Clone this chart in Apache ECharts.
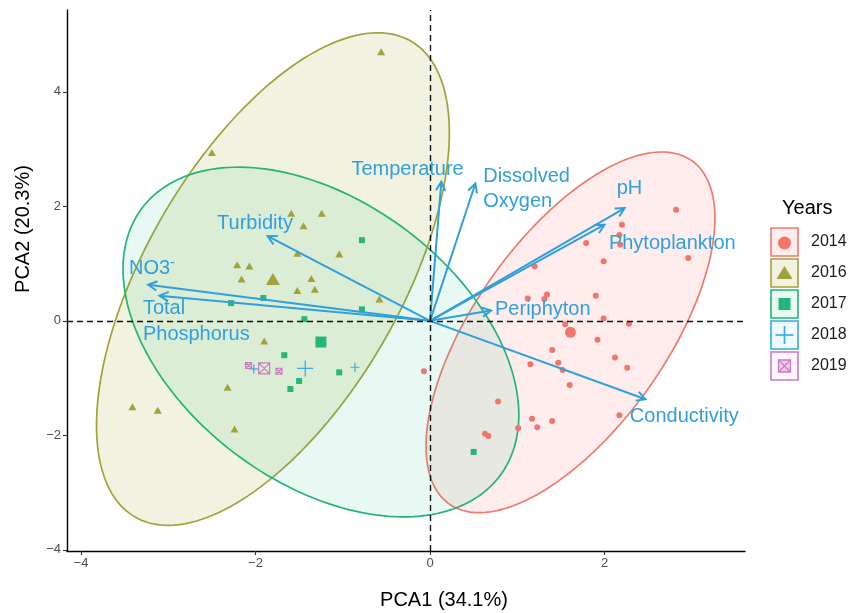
<!DOCTYPE html>
<html><head><meta charset="utf-8">
<script src="https://cdn.jsdelivr.net/npm/echarts@6/dist/echarts.min.js"></script>
<style>html,body{margin:0;padding:0;background:#fff}#c{width:852px;height:613px}</style>
</head><body><div id="c"></div>
<script>
// ---------------- data ----------------
const years = ['2014', '2016', '2017', '2018', '2019'];
const pts2014 = [[2.82,1.94],[2.20,1.68],[2.17,1.50],[2.18,1.33],[1.79,1.36],[1.99,1.04],[2.96,1.10],[1.20,0.95],
  [1.12,0.39],[1.34,0.46],[1.31,0.38],[1.90,0.44],[1.99,0.04],[2.28,-0.05],[1.55,-0.06],[1.92,-0.33],[1.40,-0.51],
  [2.12,-0.64],[2.26,-0.82],[1.15,-0.76],[1.47,-0.73],[1.52,-0.86],[1.60,-1.12],[-0.07,-0.88],[0.78,-1.41],
  [1.17,-1.71],[1.40,-1.75],[1.23,-1.86],[1.01,-1.87],[2.17,-1.65],[0.63,-1.97],[0.67,-2.01]];
const pts2016 = [[-0.56,4.70],[-2.50,2.94],[-1.59,1.88],[-1.24,1.88],[-1.45,1.66],[-1.52,1.18],[-1.04,1.17],
  [-2.21,0.98],[-2.07,0.96],[-2.16,0.73],[-1.36,0.74],[-1.52,0.53],[-1.32,0.55],[-0.58,0.38],[-1.90,-0.35],
  [-2.32,-1.16],[-3.41,-1.50],[-3.12,-1.56],[-2.24,-1.89]];
const pts2017 = [[-0.78,1.41],[-1.91,0.40],[-2.28,0.31],[-0.78,0.20],[-1.44,0.03],[-1.67,-0.60],[-1.04,-0.90],
  [-1.50,-1.05],[-1.60,-1.19],[0.50,-2.29]];
const pts2018 = [[-2.02,-0.84],[-0.86,-0.81]];
const pts2019 = [[-2.08,-0.78],[-1.73,-0.88]];
const centroids = [[1.61,-0.20],[-1.80,0.73],[-1.25,-0.37],[-1.43,-0.83],[-1.90,-0.83]];
// ellipses (2014, 2016, 2017): centre and covariance [sxx, sxy, syy]
const ellipseYears = ['2014', '2016', '2017'];
const ellipseCenters = [[1.61,-0.20],[-1.80,0.73],[-1.25,-0.37]];
const ellipseCov = [[2.740,3.299,9.924],[4.088,5.169,18.508],[5.144,-2.890,9.328]];
// loadings (arrows) and their labels
const loadNames = ['Temperature','Dissolved\nOxygen','pH','Phytoplankton','Periphyton','Conductivity','Turbidity','NO3-','Total\nPhosphorus'];
const loadings = [[0.13,2.43],[0.52,2.40],[2.23,1.97],[2.00,1.68],[0.70,0.18],[2.47,-1.37],[-1.86,1.48],[-3.23,0.63],[-3.10,0.44]];
const labelPos = [[-0.90,2.65],[0.61,2.30],[2.14,2.32],[2.05,1.36],[0.745,0.20],[2.29,-1.67],[-2.44,1.70],[-3.45,0.92],[-3.29,-0.01]];
const xTicks = [-4,-2,0,2];
const yTicks = [-4,-2,0,2,4];

// ---------------- styles ----------------
const FONT = '"Liberation Sans", Arial, Helvetica, sans-serif';
const colors = {'2014':'#F2756B','2016':'#A0A23A','2017':'#25B679','2018':'#38A8E2','2019':'#C97BBF'};
const lineColors = {'2014':'#F07A70','2016':'#A0A23A','2017':'#22B573','2018':'#38A8E2','2019':'#C97BBF'};
const fills = {'2014':'rgba(248,118,109,0.13)','2016':'rgba(163,165,40,0.15)','2017':'rgba(0,191,125,0.09)','2018':'rgba(0,176,246,0.07)','2019':'rgba(231,107,243,0.07)'};
const ARROW = '#319FDA';
const crossPath = 'path://M5,0L5,10M0,5L10,5';
const boxXPath = 'path://M0,0L10,0L10,10L0,10ZM0,0L10,10M10,0L0,10';

const chart = echarts.init(document.getElementById('c'));

function ellipseItem(params, api) {
  const cx = api.value(0), cy = api.value(1), sxx = api.value(2), sxy = api.value(3), syy = api.value(4);
  const l11 = Math.sqrt(sxx), l21 = sxy / l11, l22 = Math.sqrt(syy - l21 * l21);
  const pts = [];
  for (let k = 0; k < 180; k++) {
    const t = 2 * Math.PI * k / 180, u = Math.cos(t), v = Math.sin(t);
    pts.push(api.coord([cx + l11 * u, cy + l21 * u + l22 * v]));
  }
  const y = ellipseYears[params.dataIndex];
  return {type:'polygon', shape:{points:pts}, style:{fill:fills[y], stroke:lineColors[y], lineWidth:1.7}};
}
function arrowItem(params, api) {
  const o = api.coord([0,0]);
  const p = api.coord([api.value(0), api.value(1)]);
  const ang = Math.atan2(p[1]-o[1], p[0]-o[0]);
  const L = 10, a = Math.PI / 6.5;
  const h1 = [p[0] - L*Math.cos(ang-a), p[1] - L*Math.sin(ang-a)];
  const h2 = [p[0] - L*Math.cos(ang+a), p[1] - L*Math.sin(ang+a)];
  return {type:'group', children:[
    {type:'line', shape:{x1:o[0], y1:o[1], x2:p[0], y2:p[1]}, style:{stroke:ARROW, lineWidth:2}},
    {type:'polyline', shape:{points:[h1, p, h2]}, style:{stroke:ARROW, lineWidth:2, fill:null}}
  ]};
}
function labelItem(params, api) {
  const p = api.coord([api.value(0), api.value(1)]);
  const name = loadNames[params.dataIndex];
  let text = name, rich = undefined;
  if (name === 'NO3-') {
    text = '{a|NO3}{s|-}';
    rich = {a:{fontSize:20, fontFamily:FONT, fill:ARROW, lineHeight:26},
            s:{fontSize:15, fontFamily:FONT, fill:ARROW, verticalAlign:'top', lineHeight:15}};
  }
  return {type:'text', x:p[0], y:p[1], style:{text:text, rich:rich, fill:ARROW, fontSize:20, fontFamily:FONT,
    align:'left', verticalAlign:'middle', lineHeight:25.5}};
}

function scatterSeries(year, pts, centroid, symbol, small, big, stroke) {
  const data = pts.concat([centroid]);
  const n = pts.length;
  const s = {
    type:'scatter', name:year, z:3, symbol:symbol,
    symbolSize:(v, p) => p.dataIndex === n ? big : small,
    data:data, silent:true,
    itemStyle: stroke ? {color:'rgba(0,0,0,0)', borderColor:colors[year], borderWidth:1.2, opacity:1}
                      : {color:colors[year], opacity:1}
  };
  return s;
}

// legend via graphic
const legendY = [242, 273, 304, 335, 366];
const legendEls = [];
legendEls.push({type:'text', x:782, y:208, style:{text:'Years', fontSize:20, fontFamily:FONT, fill:'#000', align:'left', verticalAlign:'middle'}});
years.forEach((y, i) => {
  const cy = legendY[i], cx = 784.5;
  legendEls.push({type:'rect', shape:{x:771, y:cy-14, width:27, height:28}, style:{fill:fills[y], stroke:lineColors[y], lineWidth:1.6}});
  const c = colors[y];
  if (y === '2014') legendEls.push({type:'circle', shape:{cx:cx, cy:cy+1, r:6.5}, style:{fill:c}});
  if (y === '2016') legendEls.push({type:'polygon', shape:{points:[[cx, cy-7],[cx+8, cy+6],[cx-8, cy+6]]}, style:{fill:c}});
  if (y === '2017') legendEls.push({type:'rect', shape:{x:cx-6, y:cy-6, width:12, height:12}, style:{fill:c}});
  if (y === '2018') legendEls.push({type:'group', children:[
    {type:'line', shape:{x1:cx-9, y1:cy, x2:cx+9, y2:cy}, style:{stroke:c, lineWidth:1.6}},
    {type:'line', shape:{x1:cx, y1:cy-9, x2:cx, y2:cy+9}, style:{stroke:c, lineWidth:1.6}}]});
  if (y === '2019') legendEls.push({type:'group', children:[
    {type:'rect', shape:{x:cx-6, y:cy-6, width:12, height:12}, style:{fill:'rgba(201,123,191,0.35)', stroke:c, lineWidth:1.3}},
    {type:'line', shape:{x1:cx-6, y1:cy-6, x2:cx+6, y2:cy+6}, style:{stroke:c, lineWidth:1.1}},
    {type:'line', shape:{x1:cx+6, y1:cy-6, x2:cx-6, y2:cy+6}, style:{stroke:c, lineWidth:1.1}}]});
  legendEls.push({type:'text', x:811, y:cy, style:{text:y, fontSize:16, fontFamily:FONT, fill:'#1a1a1a', align:'left', verticalAlign:'middle'}});
});
legendEls.push({type:'text', x:444, y:600, style:{text:'PCA1 (34.1%)', fontSize:20, fontFamily:FONT, fill:'#000', align:'center', verticalAlign:'middle'}});
legendEls.push({type:'text', x:23, y:229, rotation:Math.PI/2, style:{text:'PCA2 (20.3%)', fontSize:20, fontFamily:FONT, fill:'#000', align:'center', verticalAlign:'middle'}});

const minus = v => String(v).replace('-', '\u2212');

chart.setOption({
  animation:false,
  backgroundColor:'#fff',
  grid:{left:67, right:107, top:10, bottom:62, containLabel:false},
  xAxis:{type:'value', min:-4.16, max:3.61, splitLine:{show:false},
    axisLine:{onZero:false, lineStyle:{color:'#000', width:1.4}},
    axisTick:{show:true, customValues:xTicks, length:4, lineStyle:{color:'#333', width:1.1}},
    axisLabel:{customValues:xTicks, formatter:minus, color:'#4D4D4D', fontSize:13, fontFamily:FONT, margin:6}},
  yAxis:{type:'value', min:-4.02, max:5.43, splitLine:{show:false},
    axisLine:{onZero:false, lineStyle:{color:'#000', width:1.4}},
    axisTick:{show:true, customValues:yTicks, length:4, lineStyle:{color:'#333', width:1.1}},
    axisLabel:{customValues:yTicks, formatter:minus, color:'#4D4D4D', fontSize:13, fontFamily:FONT, margin:6}},
  graphic:legendEls,
  series:[
    {type:'custom', z:1, silent:true, renderItem:ellipseItem,
     data:ellipseCenters.map((c, i) => [c[0], c[1], ellipseCov[i][0], ellipseCov[i][1], ellipseCov[i][2]])},
    {type:'scatter', z:2, data:[], silent:true,
     markLine:{silent:true, symbol:'none', label:{show:false}, animation:false,
       lineStyle:{color:'#111', type:[6,4], width:1.4}, data:[{xAxis:0},{yAxis:0}]}},
    scatterSeries('2014', pts2014, centroids[0], 'circle', 6, 11, false),
    scatterSeries('2016', pts2016, centroids[1], 'triangle', [8,7], [14,12], false),
    scatterSeries('2017', pts2017, centroids[2], 'rect', 6, 11, false),
    scatterSeries('2018', pts2018, centroids[3], crossPath, 9, 16, true),
    scatterSeries('2019', pts2019, centroids[4], boxXPath, 6, 11, true),
    {type:'custom', z:4, silent:true, renderItem:arrowItem, data:loadings},
    {type:'custom', z:5, silent:true, renderItem:labelItem, data:labelPos}
  ]
});
</script></body></html>
